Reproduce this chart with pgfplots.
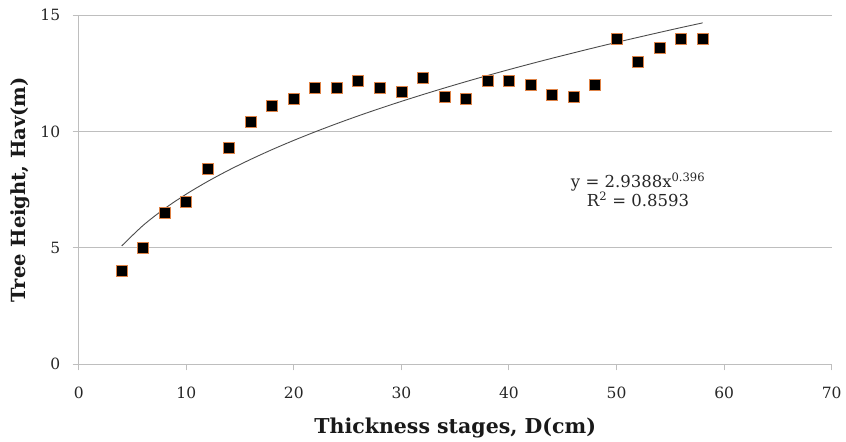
\documentclass[border=0pt]{standalone}
\usepackage{pgfplots}
\pgfplotsset{compat=1.18}
\usepackage{fontspec}
\setmainfont{DejaVu Serif}
\definecolor{gridgray}{RGB}{190,190,190}
\definecolor{edgeorange}{RGB}{222,130,70}
\begin{document}
\begin{tikzpicture}[x=1pt,y=1pt]
\begin{axis}[
  name=ax,
  at={(78.7pt,75.7pt)}, anchor=south west,
  scale only axis,
  width=753pt, height=349pt,
  xmin=0, xmax=70, ymin=0, ymax=15,
  xtick={0,10,...,70}, ytick={0,5,10,15},
  axis x line*=bottom, axis y line*=left,
  axis line style={gridgray, line width=1pt, -},
  ymajorgrids, grid style={gridgray, line width=1pt},
  tick style={gridgray, line width=1pt},
  tick align=outside, major tick length=6pt,
  /pgf/number format/assume math mode=true,
  ticklabel style={font=\fontsize{15.5}{18}\selectfont, text=black!85},
  xticklabel style={yshift=-13pt},
  yticklabel style={xshift=-9pt},
  xlabel={\textbf{Thickness stages, D(cm)}},
  ylabel={\textbf{Tree Height, Hav(m)}},
  label style={text=black!90},
  xlabel style={font=\fontsize{20.5}{22}\selectfont, at={(axis description cs:0.5,-0.1834)}, anchor=center},
  ylabel style={font=\fontsize{19.5}{22}\selectfont, at={(axis description cs:-0.078,0.5)}, anchor=center},
  clip=false,
]
\addplot[black!70, line width=0.9pt, smooth] coordinates {
(4,5.089)(6,5.975)(8,6.696)(10,7.314)(12,7.862)(14,8.357)(16,8.810)(18,9.232)
(20,9.625)(22,9.995)(24,10.345)(26,10.679)(28,10.997)(30,11.301)(32,11.593)
(34,11.875)(36,12.148)(38,12.411)(40,12.666)(42,12.913)(44,13.153)(46,13.386)
(48,13.614)(50,13.837)(52,14.053)(54,14.265)(56,14.473)(58,14.674)};
\addplot[only marks, mark=square*, mark size=5.5pt,
  mark options={fill=black, draw=edgeorange, line width=0.8pt}] coordinates {
(4,4.0)(6,5.0)(8,6.5)(10,7.0)(12,8.4)(14,9.3)(16,10.4)(18,11.1)(20,11.4)
(22,11.9)(24,11.9)(26,12.2)(28,11.9)(30,11.7)(32,12.3)(34,11.5)(36,11.4)
(38,12.2)(40,12.2)(42,12.0)(44,11.6)(46,11.5)(48,12.0)(50,14.0)(52,13.0)
(54,13.6)(56,14.0)(58,14.0)};
\node[align=center, font=\fontsize{16.5}{19}\selectfont, text=black!85] at (axis cs:52,7.5)
  {y = 2.9388x\textsuperscript{0.396}\\R\textsuperscript{2} = 0.8593};
\end{axis}
\path (0,0) rectangle (846pt,440pt);
\end{tikzpicture}
\end{document}
